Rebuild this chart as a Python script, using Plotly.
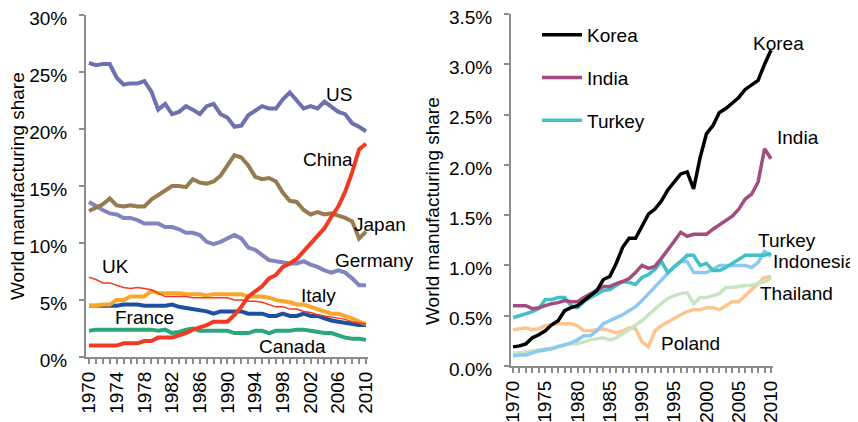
import plotly.graph_objects as go

years = list(range(1970, 2011))

# Left panel: share of world manufacturing (%)
us = [25.8, 25.6, 25.7, 25.7, 24.5, 23.9, 24.0, 24.0, 24.2, 23.3, 21.7, 22.2, 21.3, 21.5, 22.0, 21.7,
      21.3, 22.0, 22.2, 21.3, 21.0, 20.2, 20.3, 21.2, 21.6, 22.0, 21.8, 21.8, 22.6, 23.2, 22.5, 21.8,
      22.0, 21.8, 22.4, 22.0, 21.5, 21.3, 20.5, 20.2, 19.8]
japan = [12.8, 13.1, 13.4, 13.9, 13.3, 13.2, 13.3, 13.2, 13.2, 13.8, 14.2, 14.6, 15.0, 15.0, 14.9, 15.6,
         15.3, 15.2, 15.4, 15.9, 16.8, 17.7, 17.5, 16.8, 15.8, 15.6, 15.7, 15.4, 14.4, 13.7, 13.6, 12.9,
         12.5, 12.7, 12.5, 12.6, 12.4, 12.2, 11.9, 10.4, 11.0]
germany = [13.6, 13.2, 12.9, 12.6, 12.5, 12.2, 12.2, 12.0, 11.7, 11.7, 11.7, 11.4, 11.4, 11.2, 10.9, 10.9,
           10.7, 10.1, 9.9, 10.1, 10.4, 10.7, 10.4, 9.6, 9.4, 8.9, 8.5, 8.4, 8.3, 8.2, 8.2, 8.4,
           8.1, 7.9, 7.6, 7.4, 7.6, 7.4, 6.9, 6.3, 6.3]
china = [1.0, 1.0, 1.0, 1.0, 1.0, 1.2, 1.2, 1.2, 1.4, 1.4, 1.7, 1.7, 1.7, 1.9, 2.1, 2.4,
         2.6, 2.8, 3.1, 3.1, 3.1, 3.7, 4.4, 5.3, 5.8, 6.2, 6.9, 7.2, 7.9, 8.2, 8.6, 9.3,
         9.9, 10.6, 11.3, 12.3, 13.2, 14.5, 16.2, 18.2, 18.7]
uk = [7.0, 6.8, 6.5, 6.5, 6.3, 6.1, 6.0, 6.1, 6.0, 5.9, 5.6, 5.3, 5.3, 5.3, 5.3, 5.2,
      5.2, 5.2, 5.2, 5.2, 5.2, 5.0, 5.0, 4.9, 4.9, 4.8, 4.6, 4.4, 4.4, 4.2, 4.2, 4.0,
      3.9, 3.7, 3.6, 3.5, 3.4, 3.3, 3.1, 3.0, 2.9]
italy = [4.5, 4.5, 4.6, 4.6, 5.0, 5.0, 5.3, 5.3, 5.3, 5.8, 5.6, 5.6, 5.6, 5.6, 5.5, 5.5,
         5.5, 5.4, 5.5, 5.5, 5.5, 5.5, 5.5, 5.3, 5.3, 5.3, 5.2, 5.0, 4.9, 4.8, 4.6, 4.6,
         4.4, 4.2, 4.0, 3.8, 3.8, 3.6, 3.4, 3.1, 2.9]
france = [4.5, 4.5, 4.5, 4.5, 4.5, 4.6, 4.6, 4.6, 4.5, 4.5, 4.5, 4.5, 4.6, 4.4, 4.3, 4.2,
          4.1, 4.0, 3.8, 4.0, 4.0, 4.0, 4.0, 3.8, 3.8, 3.8, 3.6, 3.6, 3.8, 3.6, 3.6, 3.8,
          3.6, 3.6, 3.4, 3.2, 3.1, 3.0, 2.9, 2.8, 2.8]
canada = [2.3, 2.4, 2.4, 2.4, 2.4, 2.4, 2.4, 2.4, 2.4, 2.4, 2.3, 2.4, 2.1, 2.2, 2.4, 2.5,
          2.3, 2.3, 2.3, 2.3, 2.3, 2.1, 2.1, 2.1, 2.3, 2.3, 2.1, 2.3, 2.3, 2.3, 2.4, 2.4,
          2.3, 2.2, 2.1, 2.1, 1.9, 1.7, 1.6, 1.6, 1.5]

# Right panel
korea = [0.19, 0.20, 0.22, 0.28, 0.31, 0.35, 0.41, 0.45, 0.55, 0.58, 0.60, 0.65, 0.70, 0.75, 0.86, 0.89,
         1.02, 1.18, 1.27, 1.27, 1.39, 1.51, 1.56, 1.64, 1.75, 1.83, 1.91, 1.93, 1.76, 2.07, 2.31, 2.39,
         2.52, 2.56, 2.62, 2.67, 2.75, 2.79, 2.84, 3.00, 3.14]
india = [0.60, 0.60, 0.60, 0.57, 0.58, 0.60, 0.62, 0.63, 0.65, 0.64, 0.64, 0.68, 0.72, 0.76, 0.79, 0.79,
         0.82, 0.84, 0.87, 0.93, 1.00, 0.97, 0.99, 1.07, 1.15, 1.24, 1.33, 1.29, 1.31, 1.31, 1.31, 1.36,
         1.40, 1.44, 1.49, 1.56, 1.66, 1.71, 1.83, 2.16, 2.06]
turkey = [0.48, 0.50, 0.52, 0.54, 0.57, 0.66, 0.66, 0.68, 0.68, 0.60, 0.58, 0.64, 0.68, 0.72, 0.75, 0.76,
          0.80, 0.84, 0.83, 0.81, 0.88, 0.91, 0.96, 1.04, 0.93, 0.98, 1.04, 1.10, 1.10, 1.00, 1.02, 0.95,
          0.95, 0.98, 1.02, 1.06, 1.10, 1.10, 1.10, 1.10, 1.12]
indonesia = [0.10, 0.11, 0.11, 0.13, 0.15, 0.16, 0.17, 0.19, 0.21, 0.23, 0.26, 0.30, 0.30, 0.35, 0.42, 0.45,
             0.48, 0.51, 0.55, 0.59, 0.65, 0.72, 0.78, 0.86, 0.93, 0.99, 1.04, 1.04, 0.93, 0.93, 0.93, 0.96,
             1.00, 1.00, 1.00, 1.00, 1.00, 0.98, 1.03, 1.14, 1.09]
thailand = [0.13, 0.13, 0.14, 0.15, 0.16, 0.17, 0.18, 0.20, 0.21, 0.22, 0.22, 0.24, 0.26, 0.27, 0.28, 0.26,
            0.28, 0.32, 0.36, 0.40, 0.45, 0.51, 0.57, 0.62, 0.67, 0.70, 0.72, 0.73, 0.62, 0.68, 0.68, 0.70,
            0.72, 0.78, 0.78, 0.79, 0.80, 0.80, 0.82, 0.84, 0.87]
poland = [0.36, 0.37, 0.38, 0.36, 0.37, 0.40, 0.41, 0.42, 0.42, 0.42, 0.40, 0.35, 0.35, 0.36, 0.37, 0.35,
          0.33, 0.35, 0.38, 0.37, 0.24, 0.19, 0.35, 0.40, 0.44, 0.47, 0.51, 0.54, 0.56, 0.56, 0.58, 0.58,
          0.56, 0.60, 0.64, 0.64, 0.70, 0.76, 0.82, 0.88, 0.89]

FONT = "Arial, Liberation Sans, sans-serif"
GREY = "#8c8c8c"
FS = 19

# the page body has an 8px margin, so the figure is 850x414 and sits at (8, 8)
W, H, OFF = 850, 414, 8


def px_x(X):
    return (X - OFF) / W


def px_y(Y):
    return 1 - (Y - OFF) / H


fig = go.Figure()

left_series = [
    ("Canada", canada, "#2ba77a", 4),
    ("France", france, "#1e50a2", 4),
    ("Italy", italy, "#f9a62b", 4),
    ("UK", uk, "#ef3b24", 1.5),
    ("Germany", germany, "#8284bd", 4),
    ("Japan", japan, "#957b4e", 4),
    ("US", us, "#6e71ad", 4),
    ("China", china, "#ef3b24", 4),
]
for name, vals, col, w in left_series:
    fig.add_trace(go.Scatter(x=years, y=vals, mode="lines", name=name,
                             line=dict(color=col, width=w), showlegend=False,
                             xaxis="x", yaxis="y"))

right_series = [
    ("Poland", poland, "#fcc58f", False),
    ("Thailand", thailand, "#c6e5c1", False),
    ("Indonesia", indonesia, "#8dc8f0", False),
    ("Turkey", turkey, "#41c0c5", True),
    ("India", india, "#a24c80", True),
    ("Korea", korea, "#000000", True),
]
legend_rank = {"Korea": 1, "India": 2, "Turkey": 3}
for name, vals, col, leg in right_series:
    fig.add_trace(go.Scatter(x=years, y=vals, mode="lines", name=name,
                             line=dict(color=col, width=3.5), showlegend=leg,
                             legendgroup=name, legendrank=legend_rank.get(name, 10),
                             xaxis="x2", yaxis="y2"))

# Inline series labels (pixel centres in the 858x422 screenshot)
series_labels = [("US", 339, 94), ("China", 328, 159), ("Japan", 380, 224),
                 ("Germany", 374, 260), ("UK", 115, 266), ("Italy", 318, 295),
                 ("France", 144, 317), ("Canada", 292, 346),
                 ("Korea", 778, 43), ("India", 798, 137), ("Turkey", 787, 240),
                 ("Indonesia", 814, 262), ("Thailand", 796, 293), ("Poland", 690, 343)]
for txt, X, Y in series_labels:
    fig.add_annotation(x=px_x(X), y=px_y(Y), xref="paper", yref="paper", text=txt,
                       xanchor="center", yanchor="middle",
                       showarrow=False, font=dict(size=FS, color="black"))

# Axis titles
for X, Y in [(17, 186), (433, 211)]:
    fig.add_annotation(x=px_x(X), y=px_y(Y), xref="paper", yref="paper",
                       text="World manufacturing share", textangle=-90, showarrow=False,
                       xanchor="center", yanchor="middle",
                       font=dict(size=FS, color="black"))

axis_common = dict(showline=True, linecolor=GREY, linewidth=2, showgrid=False, zeroline=False,
                   ticks="outside", ticklen=5, tickcolor=GREY, tickwidth=1.5, automargin=False,
                   ticklabeloverflow="allow", tickfont=dict(size=FS, color="black"))
minor_ticks = dict(dtick=1, ticks="outside", ticklen=5, tickcolor=GREY, tickwidth=1.5)

fig.update_layout(
    width=W, height=H,
    margin=dict(l=0, r=0, t=0, b=0),
    paper_bgcolor="white", plot_bgcolor="white",
    font=dict(family=FONT, size=FS, color="black"),
    xaxis=dict(domain=[px_x(86), px_x(368)], range=[1969.57, 2010.29], anchor="y",
               tickmode="linear", tick0=1970, dtick=4, tickangle=-90, minor=minor_ticks,
               **axis_common),
    yaxis=dict(domain=[px_y(357), px_y(15)], range=[0, 30], anchor="x",
               dtick=5, ticksuffix="%", ticklabelstandoff=8, ticklabelshift=3, **axis_common),
    xaxis2=dict(domain=[px_x(511), px_x(773)], range=[1969.69, 2010.31], anchor="y2",
                tickmode="linear", tick0=1970, dtick=5, tickangle=-90, minor=minor_ticks,
                **axis_common),
    yaxis2=dict(domain=[px_y(366), px_y(14)], range=[0, 3.5], anchor="x2",
                dtick=0.5, tickformat=".1f", ticksuffix="%", ticklabelstandoff=8,
                ticklabelshift=3, **axis_common),
    legend=dict(x=px_x(537), y=px_y(16), xanchor="left", yanchor="top",
                bgcolor="rgba(0,0,0,0)", font=dict(size=FS), traceorder="grouped",
                tracegroupgap=15, itemwidth=40),
)

fig.write_html("out.html")
